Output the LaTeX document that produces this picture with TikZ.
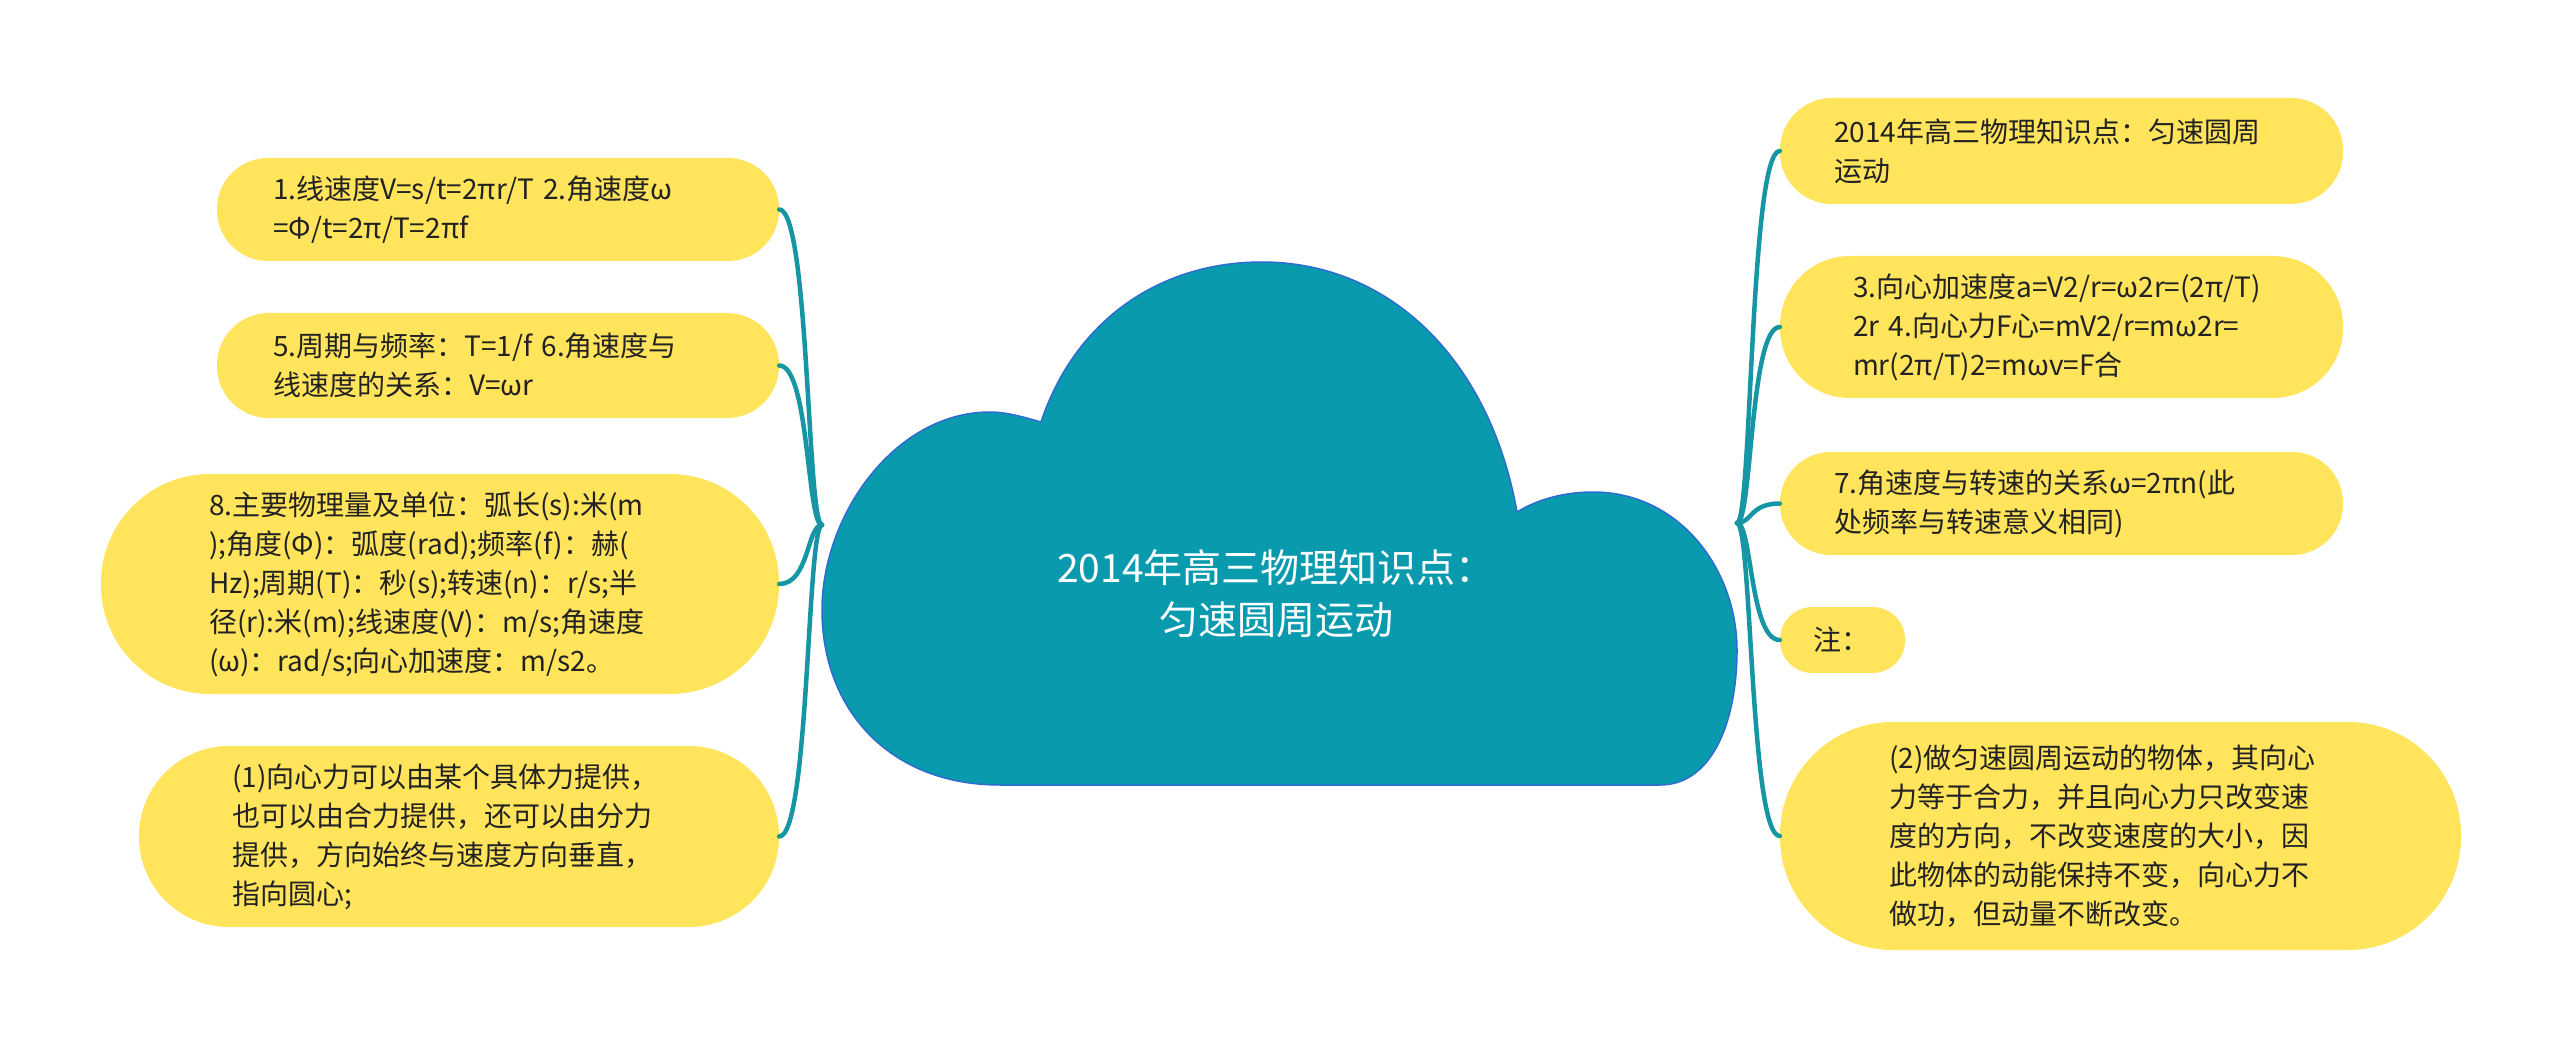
\documentclass[tikz,border=0pt]{standalone}
\usepackage{fontspec}
\setmainfont{Noto Sans CJK SC}
\usetikzlibrary{positioning,calc}
\definecolor{leafyellow}{HTML}{FFE45C}
\definecolor{cloudteal}{HTML}{0A9AAE}
\definecolor{cloudedge}{HTML}{2E6BD1}
\definecolor{linkteal}{HTML}{1695A4}
\definecolor{ink}{HTML}{222222}
\newcommand\leaffont{\fontsize{28}{39}\selectfont}
\newcommand\rootfont{\fontsize{39}{52}\selectfont}

\begin{document}
\begin{tikzpicture}[x=1pt,y=-1pt,
  leaf/.style={fill=leafyellow,text=ink,align=left,inner ysep=0pt,font=\leaffont},
  link/.style={draw=linkteal,line width=4.5pt,line cap=round}]
\fill[white] (0,0) rectangle (2560,1048);
\useasboundingbox (0,0) rectangle (2560,1048);
% cloud
\filldraw[fill=cloudteal,draw=cloudedge,line width=1.5pt]
(1000,785) -- (1660,785)
.. controls (1712,785) and (1737,722) .. (1737,650)
.. controls (1737,570) and (1680,492) .. (1593,492)
.. controls (1565,492) and (1538,499) .. (1517,512)
.. controls (1490,360) and (1390,262) .. (1262,262)
.. controls (1160,262) and (1075,320) .. (1041,422)
.. controls (1020,416) and (1005,412) .. (990,412)
.. controls (895,412) and (822,515) .. (822,610)
.. controls (822,710) and (890,785) .. (1000,785) -- cycle;
\node[text=white,align=center,font=\rootfont] (root) at (1276,594)
{2014年高三物理知识点：\\匀速圆周运动};
\coordinate (lhub) at (822,525);
\coordinate (rhub) at (1737,523);
% left
\node[leaf,minimum width=562pt,minimum height=103pt,text width=450pt,
  inner xsep=56pt,rounded corners=51pt] (L1) at (498,209.5)
{1.线速度V=s/t=2πr/T 2.角速度ω\\=Φ/t=2π/T=2πf};
\node[leaf,minimum width=562pt,minimum height=105pt,text width=450pt,
  inner xsep=56pt,rounded corners=52pt] (L2) at (498,365.5)
{5.周期与频率：T=1/f 6.角速度与\\线速度的关系：V=ωr};
\node[leaf,minimum width=678pt,minimum height=220pt,text width=462pt,
  inner xsep=108pt,rounded corners=109pt] (L3) at (440,584)
{8.主要物理量及单位：弧长(s):米(m\\);角度(Φ)：弧度(rad);频率(f)：赫(\\Hz);周期(T)：秒(s);转速(n)：r/s;半\\径(r):米(m);线速度(V)：m/s;角速度\\(ω)：rad/s;向心加速度：m/s2。};
\node[leaf,minimum width=640pt,minimum height=181pt,text width=454pt,
  inner xsep=93pt,rounded corners=90pt] (L4) at (459,836.5)
{(1)向心力可以由某个具体力提供，\\也可以由合力提供，还可以由分力\\提供，方向始终与速度方向垂直，\\指向圆心;};
% right
\node[leaf,minimum width=563pt,minimum height=106pt,text width=455pt,
  inner xsep=54pt,rounded corners=52pt] (R1) at (2061.5,151)
{2014年高三物理知识点：匀速圆周\\运动};
\node[leaf,minimum width=563pt,minimum height=142pt,text width=417pt,
  inner xsep=73pt,rounded corners=70pt] (R2) at (2061.5,327)
{3.向心加速度a=V2/r=ω2r=(2π/T)\\2r 4.向心力F心=mV2/r=mω2r=\\mr(2π/T)2=mωv=F合};
\node[leaf,minimum width=563pt,minimum height=103pt,text width=455pt,
  inner xsep=54pt,rounded corners=51pt] (R3) at (2061.5,503.5)
{7.角速度与转速的关系ω=2πn(此\\处频率与转速意义相同)};
\node[leaf,minimum width=125pt,minimum height=66pt,text width=59pt,
  inner xsep=33pt,rounded corners=32.5pt] (R4) at (1842.5,640)
{注：};
\node[leaf,minimum width=681pt,minimum height=228pt,text width=463pt,
  inner xsep=109pt,rounded corners=113pt] (R5) at (2120.5,836)
{(2)做匀速圆周运动的物体，其向心\\力等于合力，并且向心力只改变速\\度的方向，不改变速度的大小，因\\此物体的动能保持不变，向心力不\\做功，但动量不断改变。};
% links
\foreach \n in {L1,L2,L3,L4}
  \draw[link] (lhub) .. controls +(-15,0) and +(30,0) .. (\n.east);
\foreach \n in {R1,R2,R3,R4,R5}
  \draw[link] (rhub) .. controls +(15,0) and +(-30,0) .. (\n.west);
\end{tikzpicture}
\end{document}
